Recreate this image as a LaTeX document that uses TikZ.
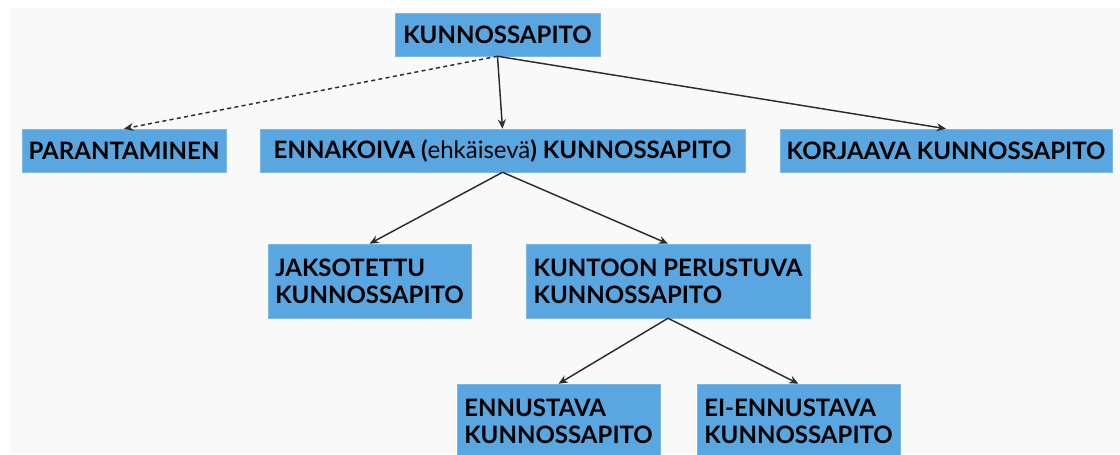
\documentclass[tikz,border=0pt]{standalone}
\usepackage{fontspec}
\setmainfont{Lato}
\usepackage{tikz}
\usetikzlibrary{arrows.meta,positioning}
\definecolor{boxblue}{RGB}{90,166,224}
\definecolor{linegray}{RGB}{45,45,45}
\definecolor{bggray}{RGB}{249,249,249}

\begin{document}
\begin{tikzpicture}[x=0.75pt, y=-0.75pt,
  box/.style={fill=boxblue, draw=boxblue!80!white, line width=0.4pt,
              minimum height=32.25pt, inner sep=0pt,
              font=\fontsize{18}{20.5}\selectfont\bfseries},
  tallbox/.style={box, minimum height=55.5pt, align=left},
  arr/.style={-{Stealth[length=7pt, width=6pt]}, line width=1.1pt, linegray}
]
\useasboundingbox (0,0) rectangle (1120,454);
\fill[white] (0,0) rectangle (1120,454);
\fill[bggray] (10,8) rectangle (1120,454);
% Levels
\node[box, minimum width=153.75pt] (top) at (497.5,34.5) {KUNNOSSAPITO};
\node[box, minimum width=153pt] (parant) at (124,150.5) {PARANTAMINEN};
\node[box, minimum width=363.75pt] (ennak) at (502.5,150.5)
  {ENNAKOIVA ({\mdseries ehkäisevä}) KUNNOSSAPITO};
\node[box, minimum width=249pt] (korj) at (946,150.5) {KORJAAVA KUNNOSSAPITO};
\node[tallbox, minimum width=152.25pt] (jaks) at (369.5,281)
  {JAKSOTETTU\\KUNNOSSAPITO};
\node[tallbox, minimum width=213pt] (kunt) at (668,281)
  {KUNTOON PERUSTUVA\\KUNNOSSAPITO};
\node[tallbox, minimum width=152.25pt] (ennu) at (558.5,421)
  {ENNUSTAVA\\KUNNOSSAPITO};
\node[tallbox, minimum width=152.25pt] (eienn) at (798.5,421)
  {EI-ENNUSTAVA\\KUNNOSSAPITO};
% Arrows
\draw[arr, dash pattern=on 3pt off 2.5pt] (top.south) -- (parant.north);
\draw[arr] (top.south) -- (ennak.north);
\draw[arr] (top.south) -- (korj.north);
\draw[arr] (ennak.south) -- (jaks.north);
\draw[arr] (ennak.south) -- (kunt.north);
\draw[arr] (kunt.south) -- (ennu.north);
\draw[arr] (kunt.south) -- (eienn.north);
\end{tikzpicture}
\end{document}
